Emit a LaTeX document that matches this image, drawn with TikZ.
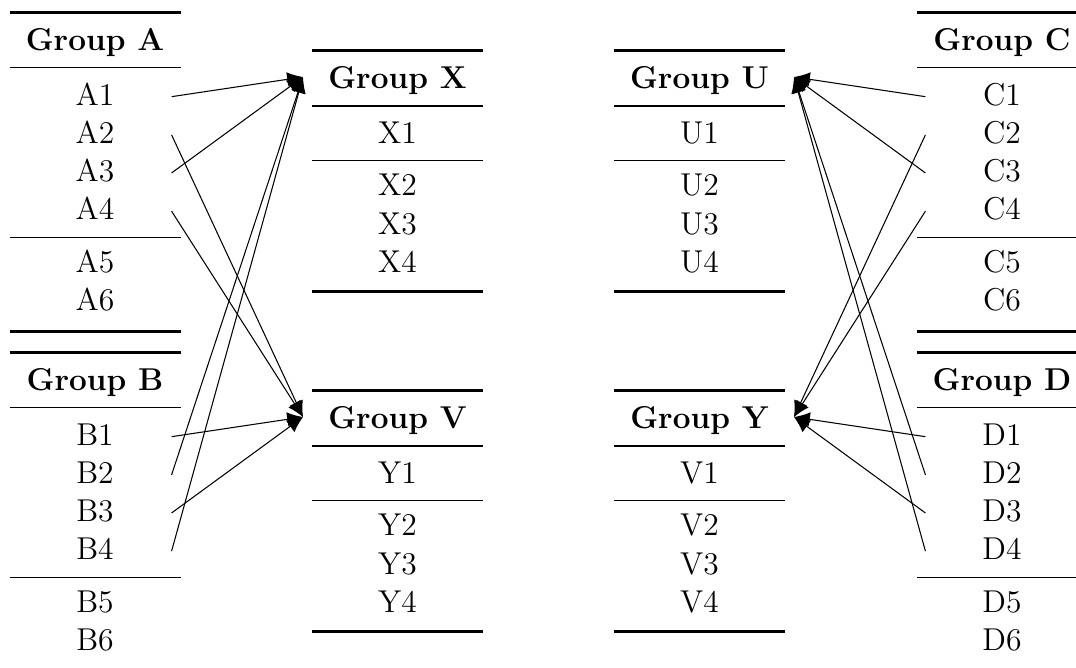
\documentclass[tikz,border=0pt]{standalone}
\usetikzlibrary{arrows.meta}
\begin{document}
\begin{tikzpicture}[x=0.38pt,y=-0.38pt,
        cell/.style = {inner sep=0pt, minimum width=57.8pt, text height=7pt, text depth=0.3pt, anchor=base, font=\fontsize{12}{14.5}\selectfont},
        head/.style = {cell, font=\fontsize{12}{14.5}\selectfont\bfseries},
        thickrule/.style = {line width=0.96pt},
        thinrule/.style = {line width=0.6pt},
        link/.style = {-{Latex[length=6pt,width=5.5pt]}}]
        \useasboundingbox (0,0) rectangle (1076,668);
        % left column
        \draw[thickrule] (10,12.7) -- (181,12.7);
        \node[head] (GA) at (95,50.5) {Group A};
        \draw[thinrule] (10,67.7) -- (181,67.7);
        \node[cell] (A1) at (95,105.5) {A1};
        \node[cell] (A2) at (95,143.7) {A2};
        \node[cell] (A3) at (95,181.8) {A3};
        \node[cell] (A4) at (95,220) {A4};
        \draw[thinrule] (10,237.7) -- (181,237.7);
        \node[cell] (A5) at (95,273) {A5};
        \node[cell] (A6) at (95,311) {A6};
        \draw[thickrule] (10,331.7) -- (181,331.7);
        \draw[thickrule] (10,352.7) -- (181,352.7);
        \node[head] (GB) at (95,390.5) {Group B};
        \draw[thinrule] (10,407.7) -- (181,407.7);
        \node[cell] (B1) at (95,445.5) {B1};
        \node[cell] (B2) at (95,483.7) {B2};
        \node[cell] (B3) at (95,521.8) {B3};
        \node[cell] (B4) at (95,560) {B4};
        \draw[thinrule] (10,577.7) -- (181,577.7);
        \node[cell] (B5) at (95,613) {B5};
        \node[cell] (B6) at (95,651) {B6};
        % middle left
        \draw[thickrule] (312,50.7) -- (483,50.7);
        \node[head] (GX) at (397.5,88.8) {Group X};
        \draw[thinrule] (312,106) -- (483,106);
        \node[cell] (X1) at (397.5,143.8) {X1};
        \draw[thinrule] (312,160.7) -- (483,160.7);
        \node[cell] (X2) at (397.5,196) {X2};
        \node[cell] (X3) at (397.5,234.2) {X3};
        \node[cell] (X4) at (397.5,272.4) {X4};
        \draw[thickrule] (312,291.5) -- (483,291.5);
        \draw[thickrule] (312,390.7) -- (483,390.7);
        \node[head] (GV) at (397.5,428.8) {Group V};
        \draw[thinrule] (312,446) -- (483,446);
        \node[cell] (Y1) at (397.5,483.8) {Y1};
        \draw[thinrule] (312,500.7) -- (483,500.7);
        \node[cell] (Y2) at (397.5,536) {Y2};
        \node[cell] (Y3) at (397.5,574.2) {Y3};
        \node[cell] (Y4) at (397.5,612.4) {Y4};
        \draw[thickrule] (312,631.5) -- (483,631.5);
        % middle right
        \draw[thickrule] (614,50.7) -- (785,50.7);
        \node[head] (GU) at (699.5,88.8) {Group U};
        \draw[thinrule] (614,106) -- (785,106);
        \node[cell] (U1) at (699.5,143.8) {U1};
        \draw[thinrule] (614,160.7) -- (785,160.7);
        \node[cell] (U2) at (699.5,196) {U2};
        \node[cell] (U3) at (699.5,234.2) {U3};
        \node[cell] (U4) at (699.5,272.4) {U4};
        \draw[thickrule] (614,291.5) -- (785,291.5);
        \draw[thickrule] (614,390.7) -- (785,390.7);
        \node[head] (GY) at (699.5,428.8) {Group Y};
        \draw[thinrule] (614,446) -- (785,446);
        \node[cell] (V1) at (699.5,483.8) {V1};
        \draw[thinrule] (614,500.7) -- (785,500.7);
        \node[cell] (V2) at (699.5,536) {V2};
        \node[cell] (V3) at (699.5,574.2) {V3};
        \node[cell] (V4) at (699.5,612.4) {V4};
        \draw[thickrule] (614,631.5) -- (785,631.5);
        % right column
        \draw[thickrule] (917,12.7) -- (1076,12.7);
        \node[head] (GC) at (1002,50.5) {Group C};
        \draw[thinrule] (917,67.7) -- (1076,67.7);
        \node[cell] (C1) at (1002,105.5) {C1};
        \node[cell] (C2) at (1002,143.7) {C2};
        \node[cell] (C3) at (1002,181.8) {C3};
        \node[cell] (C4) at (1002,220) {C4};
        \draw[thinrule] (917,237.7) -- (1076,237.7);
        \node[cell] (C5) at (1002,273) {C5};
        \node[cell] (C6) at (1002,311) {C6};
        \draw[thickrule] (917,331.7) -- (1076,331.7);
        \draw[thickrule] (917,352.7) -- (1076,352.7);
        \node[head] (GD) at (1002,390.5) {Group D};
        \draw[thinrule] (917,407.7) -- (1076,407.7);
        \node[cell] (D1) at (1002,445.5) {D1};
        \node[cell] (D2) at (1002,483.7) {D2};
        \node[cell] (D3) at (1002,521.8) {D3};
        \node[cell] (D4) at (1002,560) {D4};
        \draw[thinrule] (917,577.7) -- (1076,577.7);
        \node[cell] (D5) at (1002,613) {D5};
        \node[cell] (D6) at (1002,651) {D6};
        % arrow targets
        \coordinate (inX) at (303,77);
        \coordinate (inV) at (303,417);
        \coordinate (inU) at (794,77);
        \coordinate (inY) at (794,417);
        \draw[link] (A1.east) -- (inX);
        \draw[link] (A3.east) -- (inX);
        \draw[link] (B2.east) -- (inX);
        \draw[link] (B4.east) -- (inX);
        \draw[link] (A2.east) -- (inV);
        \draw[link] (A4.east) -- (inV);
        \draw[link] (B1.east) -- (inV);
        \draw[link] (B3.east) -- (inV);
        \draw[link] (C1.west) -- (inU);
        \draw[link] (C3.west) -- (inU);
        \draw[link] (D2.west) -- (inU);
        \draw[link] (D4.west) -- (inU);
        \draw[link] (C2.west) -- (inY);
        \draw[link] (C4.west) -- (inY);
        \draw[link] (D1.west) -- (inY);
        \draw[link] (D3.west) -- (inY);
\end{tikzpicture}
\end{document}
